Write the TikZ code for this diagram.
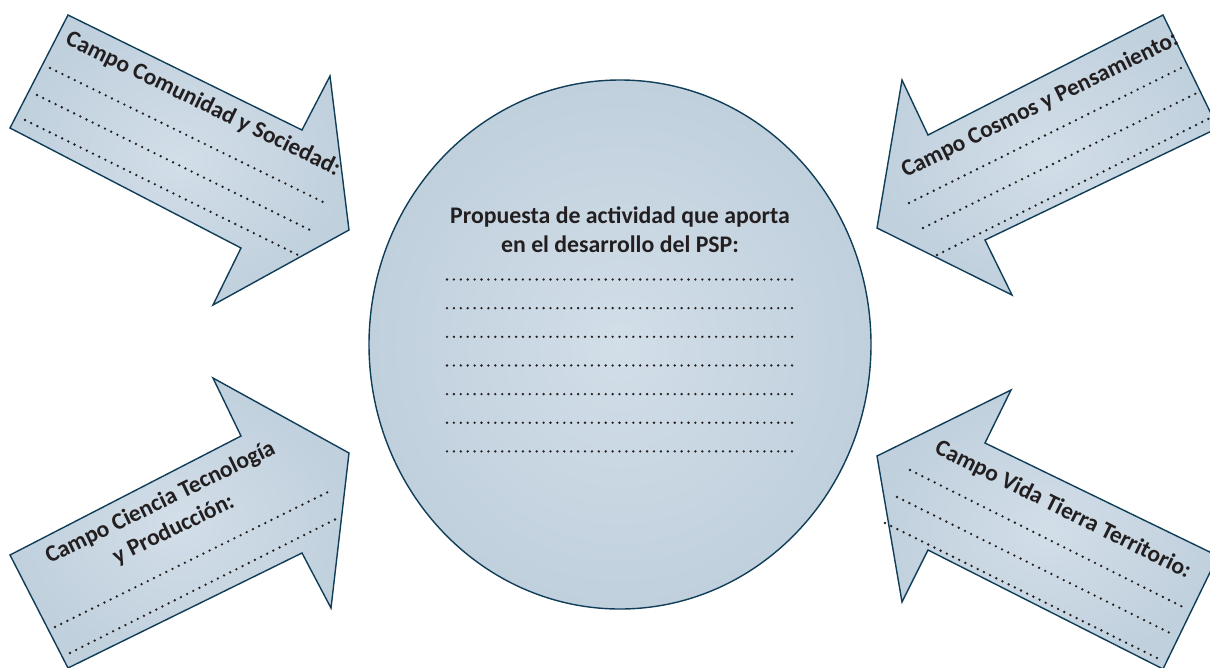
\documentclass[tikz,border=0pt]{standalone}
\usepackage{fontspec}
\setmainfont{Carlito}
\usetikzlibrary{positioning,shapes.geometric}
\definecolor{colorfill}  {RGB}{210,222,232}
\definecolor{colorshade} {RGB}{192,208,221}
\definecolor{colorline}  {RGB}{16 ,62 ,88 }
\definecolor{colortext}  {RGB}{35 ,31 ,32 }

\begin{document}
\begin{tikzpicture}[
    x=1pt, y=-1pt,
    arrowbox/.style={draw=colorline,line width=1.4pt,line join=miter,inner color=colorfill,outer color=colorshade},
    bubble/.style={ellipse,draw=colorline,line width=1.4pt,inner color=colorfill,outer color=colorshade,minimum width=502pt,minimum height=529pt},
    campo/.style={text=colortext,font={\fontsize{23.5}{30}\selectfont\bfseries},align=center,inner sep=0pt},
    dots/.style={colortext,line width=2.6pt,line cap=round,dash pattern=on 0pt off 6.9pt},
]
    \useasboundingbox (0,0) rectangle (1210,667);

    % Arrows
    \draw[arrowbox] (68,15) -- (302,130) -- (330,76) -- (349,230) -- (213,305) -- (241,248) -- (10,128) -- cycle;
    \draw[arrowbox] (1163,15) -- (928,135) -- (902,80) -- (877,228) -- (1012,295) -- (985,240) -- (1218,128) -- cycle;
    \draw[arrowbox] (349,453) -- (213,378) -- (241,436) -- (10,555) -- (68,668) -- (302,553) -- (331,608) -- cycle;
    \draw[arrowbox] (877,456) -- (1011,390) -- (985,443) -- (1218,556) -- (1163,669) -- (928,550) -- (902,602) -- cycle;

    % Circle
    \node[bubble] (psp) at (620,344.5) {};
    \node[campo,anchor=base,font={\fontsize{23.8}{29.7}\selectfont\bfseries}] (propuesta) at (620,252.7) {Propuesta de actividad que aporta\\en el desarrollo del PSP:};
    \foreach \k in {0,...,6}
        \draw[dots] (447,279.5+28.65*\k) -- (793,279.5+28.65*\k);

    % Labels
    \node[campo,rotate=-26] (comunidad) at (203,104) {Campo Comunidad y Sociedad:};
    \node[campo,rotate=26] (cosmos) at (1040,105) {Campo Cosmos y Pensamiento:};
    \node[campo,rotate=26] (ciencia) at (167,516) {Campo Ciencia Tecnología\\y Producción:};
    \node[campo,rotate=-26.5] (vida) at (1063,510) {Campo Vida Tierra Territorio:};

    % Lines to fill in
    \draw[dots] (50,68) -- (323,202);
    \draw[dots] (37,95) -- (310,230);
    \draw[dots] (25,120) -- (298,255);
    \draw[dots] (909,203) -- (1183,67);
    \draw[dots] (923,228) -- (1197,93);
    \draw[dots] (937,255) -- (1212,117);
    \draw[dots] (55,627) -- (328,492);
    \draw[dots] (70,653) -- (340,517);
    \draw[dots] (910,470) -- (1183,607);
    \draw[dots] (897,497) -- (1170,633);
    \draw[dots] (885,523) -- (1157,658);

\end{tikzpicture}
\end{document}
